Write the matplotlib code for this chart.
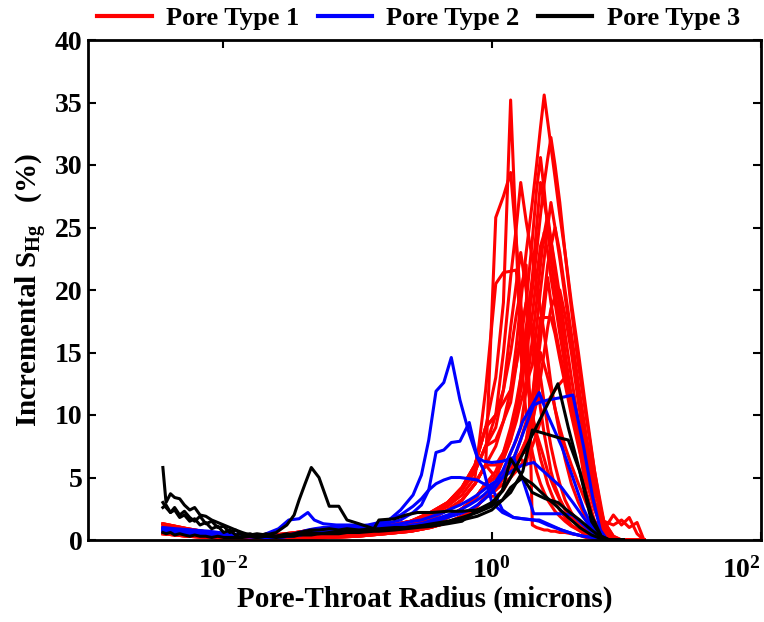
import numpy as np
import matplotlib
matplotlib.use('Agg')
import matplotlib.pyplot as plt
from matplotlib.lines import Line2D
from matplotlib.ticker import NullLocator

plt.rcParams['font.family'] = 'Liberation Serif'
plt.rcParams['font.weight'] = 'bold'
plt.rcParams['axes.unicode_minus'] = False
plt.rcParams['mathtext.fontset'] = 'custom'
plt.rcParams['mathtext.rm'] = 'Liberation Serif:bold'
plt.rcParams['mathtext.it'] = 'Liberation Serif:bold'
plt.rcParams['mathtext.bf'] = 'Liberation Serif:bold'

# pore-throat radius (microns) for the pore type 1 samples
red_x = [0.0036, 0.0055, 0.008, 0.012, 0.02, 0.035, 0.06, 0.1, 0.16, 0.25,
         0.35, 0.47, 0.6, 0.75, 0.9, 1.07, 1.22, 1.38, 1.52, 1.64,
         1.8, 2.0, 2.15, 2.3, 2.45, 2.6, 2.75, 2.95, 3.2, 3.5,
         3.9, 4.4, 5.0, 5.8, 6.8, 8.0, 9.2, 10.5, 12.0, 13.5]

# incremental SHg (%) - pore type 1
red_y = [
    [1.3, 0.9, 0.6, 0.4, 0.3, 0.35, 0.5, 0.7, 1.0, 1.5, 2.2, 3.0, 4.2, 6.0, 9.0,
     13, 19, 35.2, 24, 15, 10, 7, 5.5, 4.5, 3.8, 3.2, 2.8, 2.3, 1.9, 1.5, 1.1, 0.8, 0.5, 0.2, 0, 0, 0, 0, 0, 0],
    [0.8, 0.5, 0.3, 0.2, 0.15, 0.2, 0.3, 0.5, 0.8, 1.2, 1.7, 2.4, 3.2, 4.5, 6.0,
     7.5, 9.5, 12, 15.5, 19, 23, 27, 30, 33, 35.6, 33.5, 31.5, 29, 26, 23, 19, 15, 10.5, 5.5, 1.0, 0, 0, 0, 0, 0],
    [0.6, 0.4, 0.25, 0.15, 0.1, 0.15, 0.25, 0.4, 0.6, 0.9, 1.3, 1.8, 2.5, 3.3, 4.5,
     5.5, 7, 9, 11, 13, 16, 20, 23, 26, 28.5, 30.5, 32.2, 30, 27, 23, 18.5, 14, 10, 5.5, 1.5, 0.3, 0, 0, 0, 0],
    [1.3, 0.9, 0.6, 0.4, 0.3, 0.35, 0.5, 0.7, 1.0, 1.5, 2.2, 3.0, 4.2, 6.0, 9.0,
     10, 11, 12, 14, 16, 19, 24, 28, 30.6, 28, 25, 22.5, 20, 17, 14, 11, 8, 5, 2.5, 0.5, 0, 0, 0, 0, 0],
    [0.8, 0.5, 0.3, 0.2, 0.15, 0.2, 0.3, 0.5, 0.8, 1.2, 1.7, 2.4, 3.2, 4.5, 6.0,
     25.8, 27.5, 29.4, 24, 19, 14, 10, 8, 6.5, 5.5, 4.5, 3.8, 3.0, 2.4, 1.8, 1.2, 0.8, 0.4, 0.2, 0, 0, 0, 0, 0, 0],
    [1.0, 0.7, 0.5, 0.35, 0.3, 0.6, 1.0, 0.9, 1.1, 1.5, 2.0, 2.8, 4.0, 5.5, 7.5,
     10, 15, 21, 25, 28.6, 25.5, 22.5, 20.5, 18.5, 16.5, 14.5, 12.5, 10.5, 8.5, 6.5, 4.5, 3, 1.8, 0.8, 0.2, 0, 0, 0, 0, 0],
    [0.6, 0.4, 0.25, 0.15, 0.1, 0.15, 0.25, 0.4, 0.6, 0.9, 1.3, 1.8, 2.5, 3.3, 4.5,
     5, 6.5, 8, 10, 13, 17, 21, 25, 28.6, 27, 25.5, 24, 22, 19.5, 16.5, 13, 9.5, 6, 3, 0.8, 0, 0, 0, 0, 0],
    [0.5, 0.3, 0.2, 0.1, 0.1, 0.1, 0.2, 0.3, 0.5, 0.7, 1.0, 1.4, 1.9, 2.5, 3.5,
     4.5, 5.5, 7, 8, 9, 12, 16, 19, 22, 24.6, 23, 21, 19, 16.5, 14, 11, 8, 5, 2.5, 0.6, 0, 0, 0, 0, 0],
    [1.2, 0.8, 0.5, 0.35, 0.25, 0.3, 0.45, 0.65, 0.9, 1.3, 1.9, 2.7, 3.6, 5.0, 12.0,
     20.5, 21.4, 21.5, 21.6, 17, 13, 10, 8.5, 7.5, 6.5, 5.5, 4.8, 4.0, 3.2, 2.5, 1.8, 1.2, 0.7, 0.3, 0, 0, 0, 0, 0, 0],
    [0.5, 0.3, 0.2, 0.1, 0.1, 0.1, 0.2, 0.3, 0.5, 0.7, 1.0, 1.4, 1.9, 2.5, 3.5,
     4, 5, 5.5, 6.5, 7, 8, 11, 13.5, 16, 18.5, 21, 19, 17, 15, 13, 10.5, 8, 5.5, 3, 1, 0, 0, 0, 0, 0],
    [0.8, 0.5, 0.3, 0.2, 0.15, 0.2, 0.3, 0.5, 0.8, 1.2, 1.7, 2.4, 3.2, 4.5, 6.0,
     5, 5.5, 6, 6.5, 7, 7, 11, 15, 17.8, 17.8, 17.8, 17.8, 16.5, 14.5, 12.5, 10, 7.5, 5, 2.5, 0.7, 0, 0, 0, 0, 0],
    [0.6, 0.4, 0.25, 0.15, 0.1, 0.15, 0.25, 0.4, 0.6, 0.9, 1.3, 1.8, 2.5, 3.3, 4.5,
     5, 6.5, 8, 9.5, 11, 12.5, 14, 17, 20, 22.5, 25, 27, 25, 22.5, 19.5, 16, 12, 8, 4, 1.2, 0, 0, 0, 0, 0],
    [0.5, 0.3, 0.2, 0.1, 0.1, 0.1, 0.2, 0.3, 0.5, 0.7, 1.0, 1.4, 1.9, 2.5, 3.5,
     4, 5, 6, 7, 8, 9.5, 11.5, 14, 17, 19.5, 22, 23.5, 25, 23, 20, 16.5, 12.5, 8.5, 4.5, 1.5, 0.3, 0, 0, 0, 0],
    [1.0, 0.7, 0.5, 0.35, 0.3, 0.6, 1.0, 0.9, 1.1, 1.5, 2.0, 2.8, 4.0, 5.5, 7.5,
     8, 9.5, 11, 14, 16.5, 19, 17, 15, 13, 11, 9, 7.5, 6, 4.5, 3.2, 2.2, 1.4, 0.8, 0.3, 0, 0, 0, 0, 0, 0],
    [0.6, 0.4, 0.25, 0.15, 0.1, 0.15, 0.25, 0.4, 0.6, 0.9, 1.3, 1.8, 2.5, 3.3, 4.5,
     5, 5.5, 6, 6.5, 6.5, 6, 9, 12, 15, 14, 13, 12, 10.5, 9, 7.5, 6, 4.5, 3, 1.5, 0.5, 0, 0, 0, 0, 0],
    [1.3, 0.9, 0.6, 0.4, 0.3, 0.35, 0.5, 0.7, 1.0, 1.5, 2.2, 3.0, 4.2, 6.0, 9.0,
     10, 12, 17, 20.5, 23, 20, 16, 13, 10.5, 8.5, 7, 5.5, 4.3, 3.3, 2.4, 1.7, 1.1, 0.6, 0.2, 0, 0, 0, 0, 0, 0],
    [0.8, 0.5, 0.3, 0.2, 0.15, 0.2, 0.3, 0.5, 0.8, 1.2, 1.7, 2.4, 3.2, 4.5, 6.0,
     6, 7, 8.5, 10, 12, 15, 18, 21, 23.5, 24.5, 26, 24, 21.5, 18.5, 15, 11.5, 8, 4, 1.5, 0.8, 2.0, 1.2, 1.8, 0.5, 0],
    [0.5, 0.3, 0.2, 0.1, 0.1, 0.1, 0.2, 0.3, 0.5, 0.7, 1.0, 1.4, 1.9, 2.5, 3.5,
     3.5, 4, 5, 6, 7, 8, 9.5, 11, 13, 15, 17, 18.5, 19.5, 20, 18, 15, 11, 7, 3, 1.5, 1.2, 1.6, 1.0, 1.4, 0],
    [1.0, 0.7, 0.5, 0.35, 0.3, 0.6, 1.0, 0.9, 1.1, 1.5, 2.0, 2.8, 4.0, 5.5, 7.5,
     9, 12, 15, 18, 20, 22, 1.2, 1.0, 0.9, 0.8, 0.8, 0.7, 0.7, 0.6, 0.6, 0.5, 0.4, 0.2, 0.1, 0, 0, 0, 0, 0, 0],
    [0.6, 0.4, 0.25, 0.15, 0.1, 0.15, 0.25, 0.4, 0.6, 0.9, 1.3, 1.8, 2.5, 3.3, 4.5,
     4, 4.5, 5, 5.5, 6, 6.5, 7.5, 8.5, 9.5, 10.5, 11, 11.5, 12, 12.5, 13, 11, 8.5, 6, 3, 1, 0, 0, 0, 0, 0],
]

# pore type 2 samples
blue_x = [0.0036, 0.0045, 0.006, 0.008, 0.011, 0.015, 0.02, 0.026, 0.031, 0.037,
          0.043, 0.048, 0.056, 0.07, 0.09, 0.12, 0.16, 0.21, 0.26, 0.3,
          0.34, 0.385, 0.44, 0.5, 0.58, 0.68, 0.78, 0.87, 1.0, 1.2,
          1.45, 1.7, 2.05, 2.25, 2.6, 3.3, 4.0, 4.8, 5.6, 6.4, 7.2]

blue_y = [
    [1.0, 0.9, 0.8, 0.7, 0.5, 0.35, 0.4, 0.9, 1.6, 1.7, 2.2, 1.6, 1.3, 1.2, 1.2,
     1.1, 1.3, 2.4, 3.6, 5.2, 8.0, 11.9, 12.6, 14.6, 11.2, 8.5, 6.6, 5.6, 3.0, 2.2,
     1.8, 1.7, 1.6, 1.5, 1.2, 0.8, 0.5, 0.3, 0.2, 0.1, 0],
    [0.8, 0.7, 0.6, 0.5, 0.4, 0.3, 0.2, 0.2, 0.3, 0.5, 0.7, 0.8, 0.9, 1.0, 1.0,
     1.1, 1.3, 1.6, 2.2, 2.8, 4.0, 7.0, 7.2, 7.8, 7.9, 9.4, 6.6, 6.3, 6.2, 6.3,
     6.6, 4.8, 2.1, 2.1, 2.1, 2.1, 2.0, 1.2, 0.6, 0.1, 0],
    [0.9, 0.8, 0.7, 0.6, 0.5, 0.4, 0.3, 0.3, 0.4, 0.6, 0.8, 0.9, 1.0, 1.0, 1.1,
     1.2, 1.5, 2.0, 2.7, 3.3, 4.0, 4.5, 4.8, 5.0, 5.0, 4.9, 4.8, 4.5, 4.2, 2.4,
     1.8, 1.7, 1.6, 1.6, 1.3, 0.8, 0.5, 0.3, 0.2, 0.1, 0],
    [0.7, 0.6, 0.5, 0.4, 0.3, 0.25, 0.2, 0.2, 0.3, 0.4, 0.5, 0.6, 0.6, 0.7, 0.7,
     0.8, 0.9, 1.0, 1.2, 1.3, 1.5, 1.7, 1.9, 2.1, 2.4, 2.8, 3.2, 3.6, 4.2, 5.5,
     7.5, 9.5, 11.0, 11.8, 10.0, 7.5, 5.0, 2.5, 1.0, 0.2, 0],
    [0.8, 0.7, 0.6, 0.5, 0.4, 0.3, 0.25, 0.25, 0.3, 0.4, 0.5, 0.6, 0.7, 0.8, 0.8,
     0.9, 1.0, 1.1, 1.2, 1.3, 1.4, 1.5, 1.7, 1.9, 2.1, 2.4, 2.8, 3.2, 3.8, 5.0,
     6.5, 8.5, 10.8, 11.0, 11.2, 11.4, 11.6, 7.5, 3.5, 0.8, 0],
    [0.9, 0.8, 0.6, 0.5, 0.4, 0.3, 0.3, 0.3, 0.4, 0.5, 0.6, 0.7, 0.8, 0.8, 0.9,
     1.0, 1.1, 1.3, 1.5, 1.6, 1.8, 2.0, 2.2, 2.5, 2.8, 3.2, 3.6, 4.0, 4.5, 5.0,
     5.6, 6.0, 6.2, 5.8, 5.2, 4.2, 3.0, 1.8, 0.8, 0.2, 0],
]

# pore type 3 samples
black_x = [0.0036, 0.0038, 0.0041, 0.0044, 0.0048, 0.0052, 0.0057, 0.0062, 0.0068, 0.0075,
           0.0083, 0.0092, 0.0102, 0.0113, 0.0125, 0.014, 0.016, 0.018, 0.021, 0.025,
           0.03, 0.034, 0.037, 0.041, 0.0456, 0.052, 0.062, 0.073, 0.084, 0.103,
           0.133, 0.145, 0.19, 0.23, 0.28, 0.36, 0.47, 0.6, 0.78, 1.0,
           1.2, 1.38, 1.7, 2.0, 2.5, 3.1, 3.7, 4.5, 5.5, 6.5,
           7.5, 8.5, 9.5]

black_y = [
    [5.8, 3.0, 3.7, 3.4, 3.3, 2.8, 2.4, 2.6, 2.0, 1.9,
     1.6, 1.4, 1.2, 1.0, 0.8, 0.6, 0.4, 0.5, 0.4, 0.6,
     1.2, 2.0, 3.2, 4.5, 5.8, 5.0, 2.7, 2.7, 1.6, 1.3,
     0.9, 1.6, 1.7, 2.0, 2.2, 2.2, 2.3, 2.3, 2.4, 2.8,
     3.2, 3.8, 5.5, 8.8, 8.5, 8.2, 8.0, 5.5, 2.0, 0.3,
     0, 0, 0],
    [3.0, 2.6, 2.2, 2.6, 2.0, 2.3, 1.8, 1.5, 1.9, 1.3,
     1.5, 1.0, 1.1, 0.6, 0.8, 0.4, 0.5, 0.3, 0.5, 0.3,
     0.5, 0.4, 0.6, 0.5, 0.6, 0.5, 0.6, 0.6, 0.7, 0.7,
     0.8, 0.8, 0.9, 1.0, 1.1, 1.3, 1.5, 1.8, 2.2, 2.7,
     4.0, 6.5, 5.0, 3.8, 3.3, 3.0, 2.3, 1.6, 0.8, 0.2,
     0, 0, 0],
    [2.6, 2.8, 2.2, 2.4, 1.8, 2.0, 1.5, 1.7, 1.2, 1.4,
     0.9, 1.1, 0.6, 0.8, 0.4, 0.5, 0.3, 0.2, 0.3, 0.2,
     0.3, 0.3, 0.4, 0.4, 0.4, 0.5, 0.5, 0.5, 0.6, 0.6,
     0.7, 0.7, 0.8, 0.9, 1.0, 1.1, 1.3, 1.5, 2.4, 3.0,
     3.9, 5.0, 6.9, 8.4, 10.5, 12.5, 9.0, 5.5, 1.5, 0.3,
     0, 0, 0],
    [0.6, 0.5, 0.6, 0.4, 0.5, 0.4, 0.3, 0.4, 0.3, 0.3,
     0.2, 0.3, 0.2, 0.2, 0.2, 0.2, 0.3, 0.2, 0.3, 0.3,
     0.4, 0.5, 0.6, 0.7, 0.8, 0.8, 0.9, 0.8, 0.9, 0.8,
     0.9, 0.9, 1.0, 1.0, 1.1, 1.2, 1.4, 1.6, 1.9, 2.4,
     3.2, 4.2, 5.0, 4.5, 3.5, 2.6, 1.8, 1.0, 0.4, 0.1,
     0, 0, 0],
]

labels = ['Pore Type 1', 'Pore Type 2', 'Pore Type 3']
colors = ['#ff0000', '#0000ff', '#000000']

fig = plt.figure(figsize=(7.64, 6.22), dpi=100)
ax = fig.add_axes([88 / 764, 82 / 622, 673 / 764, 500 / 622])

# draw every sample
for y in red_y:
    ax.plot(red_x, y, color=colors[0], lw=2.2)
for y in blue_y:
    ax.plot(blue_x, y, color=colors[1], lw=2.2)
for y in black_y:
    ax.plot(black_x, y, color=colors[2], lw=2.2)

ax.set_xscale('log')
ax.set_xlim(1e-3, 1e2)
ax.set_ylim(0, 40)
ax.set_xticks([1e-2, 1e0, 1e2])
ax.xaxis.set_minor_locator(NullLocator())
ax.set_yticks(np.arange(0, 41, 5))
ax.tick_params(direction='in', top=True, right=True, length=6, width=1.5,
               labelsize=20)
ax.tick_params(axis='y', pad=4)
ax.tick_params(axis='x', pad=12)
for s in ax.spines.values():
    s.set_linewidth(2)

# last x tick label sits at the figure edge
ax.get_xticklabels()[-1].set_horizontalalignment('right')

ax.set_xlabel('Pore-Throat Radius (microns)', fontsize=21, fontweight='bold', labelpad=2)
ax.set_ylabel(r'Incremental S$_{\mathrm{Hg}}$   (%)', fontsize=21, fontweight='bold', labelpad=4)

handles = [Line2D([], [], color=c, lw=3) for c in colors]
fig.legend(handles, labels, loc='center', bbox_to_anchor=(0.548, 0.971), ncol=3,
           frameon=False, fontsize=19, handlelength=2.05, handletextpad=0.55,
           columnspacing=0.7)

fig.savefig('out.png', dpi=100)
